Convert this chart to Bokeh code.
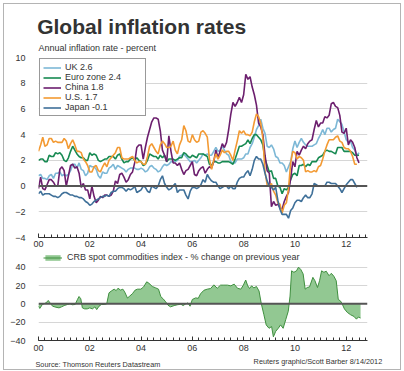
import numpy as np
from bokeh.plotting import figure
from bokeh.models import (Range1d, FixedTicker, PrintfTickFormatter, Legend, LegendItem,
                          Label, Span)
from bokeh.layouts import column
from bokeh.embed import file_html
from bokeh.resources import INLINE

FONT = "Liberation Sans"
TXT = "#333333"

# ---------------- data (monthly, Jan 2000 onward) ----------------
uk = [0.8,0.9,0.6,0.6,0.5,0.8,0.9,0.6,1.0,1.0,1.1,0.8,
      0.9,0.8,0.9,1.2,1.7,1.7,1.4,1.8,1.3,1.2,0.8,1.0,
      1.6,1.5,1.5,1.3,0.8,0.6,1.1,1.0,1.0,1.4,1.5,1.7,
      1.3,1.6,1.5,1.4,1.3,1.1,1.3,1.4,1.4,1.4,1.3,1.3,
      1.4,1.3,1.1,1.2,1.5,1.6,1.4,1.3,1.1,1.2,1.5,1.7,
      1.6,1.7,1.9,1.9,1.9,2.0,2.3,2.4,2.5,2.3,2.1,1.9,
      1.9,2.0,1.8,2.0,2.2,2.5,2.4,2.5,2.4,2.4,2.7,3.0,
      2.7,2.8,3.1,2.8,2.5,2.4,1.9,1.8,1.8,2.1,2.1,2.1,
      2.2,2.5,2.5,3.0,3.3,3.8,4.4,4.7,5.2,4.5,4.1,3.1,
      3.0,3.2,2.9,2.3,2.2,1.8,1.8,1.6,1.1,1.5,1.9,2.9,
      3.5,3.0,3.4,3.7,3.4,3.2,3.1,3.1,3.1,3.2,3.3,3.7,
      4.0,4.4,4.0,4.5,4.5,4.2,4.4,4.5,5.2,5.0,4.8,4.2,
      3.6,3.4,3.5,3.0,2.8,2.4,2.6]

euro = [2.0,2.1,2.1,1.9,1.9,2.4,2.3,2.3,2.6,2.5,2.6,2.4,
        2.0,1.9,2.2,2.7,3.1,2.8,2.5,2.3,2.2,2.2,2.0,2.0,
        2.6,2.4,2.5,2.4,2.0,1.9,2.0,2.1,2.1,2.3,2.3,2.3,
        2.1,2.4,2.5,2.1,1.8,1.9,1.9,2.1,2.2,2.0,2.2,2.0,
        1.9,1.6,1.7,2.0,2.5,2.4,2.3,2.3,2.1,2.4,2.2,2.4,
        1.9,2.1,2.1,2.1,2.0,2.1,2.2,2.2,2.6,2.5,2.3,2.2,
        2.4,2.3,2.2,2.5,2.5,2.5,2.4,2.3,1.7,1.6,1.9,1.9,
        1.8,1.8,1.9,1.9,1.9,1.9,1.8,1.7,2.1,2.6,3.1,3.1,
        3.2,3.3,3.6,3.3,3.7,4.0,4.0,3.8,3.6,3.2,2.1,1.6,
        1.1,1.2,0.6,0.6,0.0,-0.1,-0.6,-0.2,-0.3,-0.1,0.5,0.9,
        1.0,0.8,1.6,1.6,1.7,1.5,1.7,1.6,1.9,1.9,1.9,2.2,
        2.3,2.4,2.7,2.8,2.7,2.7,2.6,2.5,3.0,3.0,3.0,2.7,
        2.7,2.7,2.7,2.6,2.4,2.4,2.4]

china = [-0.2,0.7,-0.2,-0.3,0.1,0.5,0.5,0.3,0.0,0.0,1.3,1.5,
         1.2,0.0,0.8,1.6,1.7,1.4,1.5,1.0,-0.1,0.2,-0.3,-0.3,
         -1.0,0.0,-0.8,-1.3,-1.1,-0.8,-0.9,-0.7,-0.7,-0.8,-0.7,-0.4,
         0.4,0.2,0.9,1.0,0.7,0.3,0.5,0.9,1.1,1.8,3.0,3.2,
         3.2,2.1,3.0,3.8,4.4,5.0,5.3,5.3,5.2,4.3,2.8,2.4,
         1.9,3.9,2.7,1.8,1.8,1.6,1.8,1.3,0.9,1.2,1.3,1.6,
         1.9,0.9,0.8,1.2,1.4,1.5,1.0,1.3,1.5,1.4,1.9,2.8,
         2.2,2.7,3.3,3.0,3.4,4.4,5.6,6.5,6.2,6.5,6.9,6.5,
         7.1,8.7,8.3,8.5,7.7,7.1,6.3,4.9,4.6,4.0,2.4,1.2,
         1.0,-1.6,-1.2,-1.5,-1.4,-1.7,-1.8,-1.2,-0.8,-0.5,0.6,1.9,
         1.5,2.7,2.4,2.8,3.1,2.9,3.3,3.5,3.6,4.4,5.1,4.6,
         4.9,4.9,5.4,5.3,5.5,6.4,6.5,6.2,6.1,5.5,4.2,4.1,
         4.5,3.2,3.6,3.4,3.0,2.2,1.8]

us = [2.7,3.2,3.8,3.1,3.2,3.7,3.7,3.4,3.5,3.4,3.4,3.4,
      3.7,3.5,2.9,3.3,3.6,3.2,2.7,2.7,2.6,2.1,1.9,1.6,
      1.1,1.1,1.5,1.6,1.2,1.1,1.5,1.8,1.5,2.0,2.2,2.4,
      2.6,3.0,3.0,2.2,2.1,2.1,2.1,2.2,2.3,2.0,1.8,1.9,
      1.9,1.7,1.7,2.3,3.1,3.3,3.0,2.7,2.5,3.2,3.5,3.3,
      3.0,3.0,3.1,3.5,2.8,2.5,3.2,3.6,4.7,4.3,3.5,3.4,
      4.0,3.6,3.4,3.5,4.2,4.3,4.1,3.8,2.1,1.3,2.0,2.5,
      2.1,2.4,2.8,2.6,2.7,2.7,2.4,2.0,2.8,3.5,4.3,4.1,
      4.3,4.0,4.0,3.9,4.2,5.0,5.6,5.4,4.9,3.7,1.1,0.1,
      0.0,0.2,-0.4,-0.7,-1.3,-1.4,-2.1,-1.5,-1.3,-0.2,1.8,2.7,
      2.6,2.1,2.3,2.2,2.0,1.1,1.2,1.1,1.1,1.2,1.1,1.5,
      1.6,2.1,2.7,3.2,3.6,3.6,3.6,3.8,3.9,3.5,3.4,3.0,
      2.9,2.9,2.7,2.3,1.7,1.7]

japan = [-0.6,-0.4,-0.7,-0.6,-0.6,-0.6,-0.7,-0.8,-0.8,-0.9,-0.8,-0.6,
         -0.5,-0.5,-0.6,-0.7,-0.7,-0.8,-0.8,-0.9,-0.9,-1.0,-1.2,-1.3,
         -1.5,-1.4,-1.2,-1.1,-1.0,-0.9,-0.8,-0.8,-0.7,-0.8,-0.5,-0.4,
         -0.4,-0.2,-0.1,-0.1,-0.2,-0.4,-0.2,-0.3,-0.2,0.0,-0.5,-0.4,
         -0.3,0.0,-0.1,-0.4,-0.5,0.0,-0.1,-0.2,0.0,0.5,0.8,0.2,
         -0.1,-0.3,-0.2,0.0,0.2,-0.5,-0.3,-0.3,-0.3,-0.7,-1.0,-0.4,
         -0.1,-0.1,-0.2,-0.1,0.1,0.5,0.3,0.9,0.6,0.4,0.3,0.3,
         0.0,-0.2,-0.1,0.0,0.0,-0.2,0.0,-0.2,-0.2,0.3,0.6,0.7,
         0.7,1.0,1.2,0.8,1.3,2.0,2.3,2.1,2.1,1.7,1.0,0.4,
         0.0,-0.1,-0.3,-0.1,-1.1,-1.8,-2.2,-2.2,-2.2,-2.5,-1.9,-1.7,
         -1.3,-1.1,-1.1,-1.2,-0.9,-0.7,-0.9,-0.9,-0.6,0.2,0.1,0.0,
         0.0,0.0,0.0,0.3,0.3,0.2,0.2,0.2,0.0,-0.2,-0.5,-0.2,
         0.1,0.3,0.5,0.5,0.2,-0.1]

series_names = ["UK 2.6", "Euro zone 2.4", "China 1.8", "U.S. 1.7", "Japan -0.1"]
series_colors = ["#7db8d6", "#178a52", "#6c1f6e", "#f39a33", "#3f7099"]

# CRB spot commodities index, % change on previous year (years since 2000)
crb_year = [0.0,0.05,0.15,0.29,0.38,0.45,0.55,0.68,0.8,0.9,1.0,1.13,1.23,1.32,1.43,1.52,1.58,1.65,
            1.71,1.8,1.9,2.0,2.1,2.2,2.27,2.36,2.45,2.56,2.66,2.75,2.84,2.95,3.03,3.1,3.2,3.29,
            3.36,3.47,3.56,3.66,3.77,3.86,3.99,4.1,4.22,4.3,4.44,4.57,4.68,4.77,4.86,4.96,5.05,
            5.15,5.29,5.42,5.55,5.64,5.74,5.83,5.91,6.0,6.13,6.23,6.32,6.45,6.58,6.71,6.84,6.97,
            7.1,7.23,7.37,7.5,7.63,7.76,7.89,7.99,8.08,8.16,8.23,8.31,8.4,8.5,8.6,8.69,8.79,8.88,
            8.99,9.09,9.16,9.25,9.35,9.44,9.54,9.64,9.74,9.81,9.87,9.96,10.06,10.14,10.23,10.32,
            10.4,10.48,10.57,10.7,10.78,10.88,10.96,11.04,11.13,11.22,11.33,11.42,11.52,11.61,
            11.69,11.78,11.84,11.93,12.04,12.17,12.3,12.4,12.47,12.56]
crb_pct = [-2.6,-5,-0.7,1,3.7,1,-2.6,-3.7,-4.4,-3.3,-1.9,-0.7,0,-1,-0.7,4.8,8,5.5,
           -4.4,-5.5,-5.5,-4.4,-5.5,-3.3,-6.3,-2.6,-0.7,-0.7,0,12,14,16,14.4,17,15,16,
           13,6.3,8.5,11,15,16,16,18.5,24,22.6,18.9,17.4,16,7.8,5.5,2.2,-1.5,
           -3.3,-1.9,-1,-0.4,-1.9,0,1,-2.6,4.8,6.5,6,11,14.8,16,16.7,20.7,17,
           20.4,20.4,20.4,19.6,21.5,17,16,20.4,26,19.6,16.7,19.6,17.4,18.9,14,0,-11.9,-23,
           -26.7,-24.8,-36,-30,-26.7,-23,-26.7,-17.4,-8.1,8.5,36,34.4,36,40,37.4,32.6,
           16,17.8,18.5,28.9,25.2,17.8,25.2,36,34.4,35.6,30.7,33.3,30,25.2,
           4.8,3,0,-5.5,-9.3,-11.9,-13.7,-16.7,-14.4,-15.5]

x_major = [0, 2, 4, 6, 8, 10, 12]
x_minor = [q / 4 for q in range(0, 52)]
top_ticks = [-4, -2, 0, 2, 4, 6, 8, 10]
bot_ticks = [-40, -20, 0, 20, 40]

X_END = 12.83
W = 396
ML, MR = 34, 33


def style_axes(p, yticks, grid_ticks, xstandoff):
    p.outline_line_color = None
    p.background_fill_color = "white"
    p.border_fill_color = "white"
    p.xgrid.visible = False
    p.ygrid.ticker = FixedTicker(ticks=grid_ticks)
    p.ygrid.grid_line_color = "#d6d6d6"
    p.ygrid.grid_line_width = 1
    ya = p.yaxis[0]
    ya.ticker = FixedTicker(ticks=yticks)
    ya.axis_line_color = None
    ya.major_tick_line_color = None
    ya.minor_tick_line_color = None
    ya.major_label_standoff = 7
    ya.major_label_text_font = FONT
    ya.major_label_text_font_size = "9px"
    ya.major_label_text_color = TXT
    xa = p.xaxis[0]
    xa.ticker = FixedTicker(ticks=x_major, minor_ticks=x_minor)
    xa.formatter = PrintfTickFormatter(format="%02d")
    xa.axis_line_color = "#333333"
    xa.axis_line_width = 1
    xa.major_tick_line_color = "#333333"
    xa.minor_tick_line_color = "#333333"
    xa.major_tick_in = 4
    xa.major_tick_out = 0
    xa.minor_tick_in = 3
    xa.minor_tick_out = 0
    xa.major_label_standoff = xstandoff
    xa.major_label_text_font = FONT
    xa.major_label_text_font_size = "9px"
    xa.major_label_text_color = TXT


def text_panel(height):
    t = figure(width=W, height=height, x_range=Range1d(0, 1), y_range=Range1d(0, 1),
               x_axis_type=None, y_axis_type=None, output_backend="svg", toolbar_location=None,
               min_border=0)
    t.frame_align = False
    t.outline_line_color = None
    t.grid.visible = False
    t.background_fill_color = "white"
    t.border_fill_color = "white"
    return t


# ---------------- title panel ----------------
pt = text_panel(49)
pt.add_layout(Label(x=32.7, y=27, x_units="screen", y_units="screen",
                    text="Global inflation rates", text_font=FONT, text_font_size="21px",
                    text_font_style="bold", text_color=TXT, text_baseline="alphabetic"))
pt.add_layout(Label(x=34, y=5.3, x_units="screen", y_units="screen",
                    text="Annual inflation rate - percent", text_font=FONT, text_font_size="9px",
                    text_color=TXT, text_baseline="middle"))

# ---------------- top panel ----------------
p1 = figure(width=W, height=199, x_range=Range1d(0, X_END), y_range=Range1d(-4, 10),
            output_backend="svg", toolbar_location=None,
            min_border_left=ML, min_border_right=MR, min_border_top=4, min_border_bottom=15)
style_axes(p1, top_ticks, [-2, 2, 4, 6, 8, 10], 3)
p1.add_layout(Span(location=0, dimension="width", line_color="#555555", line_width=2))

items = []
for name, vals, col in zip(series_names, [uk, euro, china, us, japan], series_colors):
    xs = np.arange(len(vals)) / 12.0
    r = p1.line(xs, vals, line_color=col, line_width=1.6)
    items.append(LegendItem(label=name, renderers=[r]))

leg = Legend(items=items, location="top_left", margin=1, padding=3, spacing=0,
             glyph_width=18, glyph_height=9, label_height=9, label_standoff=4, label_width=77,
             label_text_font=FONT, label_text_font_size="9px", label_text_color=TXT,
             border_line_color="#333333", border_line_width=1,
             background_fill_color="white", background_fill_alpha=1)
p1.add_layout(leg, "center")

# ---------------- bottom panel ----------------
p2 = figure(width=W, height=102, x_range=Range1d(0, X_END), y_range=Range1d(-40, 56.0),
            output_backend="svg", toolbar_location=None,
            min_border_left=ML, min_border_right=MR, min_border_top=0, min_border_bottom=14)
style_axes(p2, bot_ticks, [-20, 20, 40], 4)
ra = p2.varea(x=crb_year, y1=0, y2=crb_pct, fill_color="#92c892", fill_alpha=1)
rl = p2.line(crb_year, crb_pct, line_color="#3f8f3f", line_width=1)
p2.add_layout(Span(location=0, dimension="width", line_color="#555555", line_width=2))

leg2 = Legend(items=[LegendItem(label="CRB spot commodities index - % change on previous year",
                                renderers=[ra, rl])],
              location=(5, 78), margin=0, padding=0, spacing=0,
              glyph_width=19, glyph_height=7, label_height=8, label_standoff=5,
              label_text_font=FONT, label_text_font_size="9px", label_text_color=TXT,
              border_line_color=None, background_fill_alpha=0)
p2.add_layout(leg2, "center")

# ---------------- footer panel ----------------
pf = text_panel(15)
pf.add_layout(Label(x=31, y=4.7, x_units="screen", y_units="screen",
                    text="Source: Thomson Reuters Datastream", text_font=FONT,
                    text_font_size="7.3px", text_color=TXT, text_baseline="middle"))
pf.add_layout(Label(x=377.7, y=8.3, x_units="screen", y_units="screen",
                    text="Reuters graphic/Scott Barber 8/14/2012", text_font=FONT,
                    text_font_size="7.3px", text_color=TXT, text_baseline="middle",
                    text_align="right"))

layout = column(pt, p1, p2, pf, spacing=0, margin=(3, 0, 0, 3),
                styles={"border": "1px solid #b4b4b4"})
open("out.html", "w").write(file_html(layout, INLINE))
